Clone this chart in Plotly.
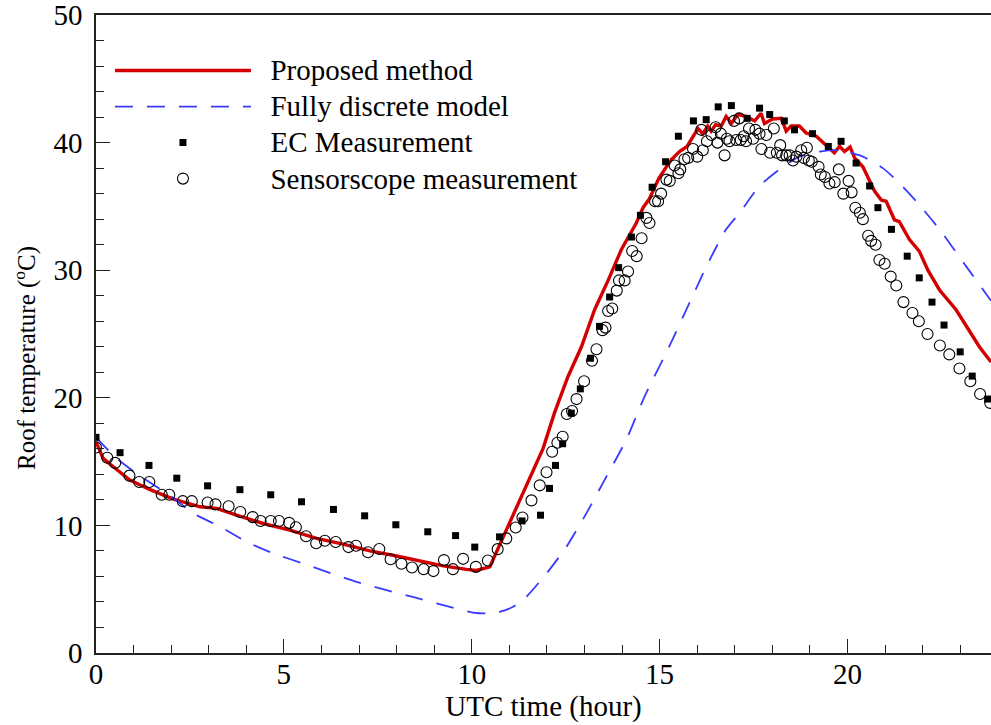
import plotly.graph_objects as go

# Hourly roof temperature, UTC hours vs degrees C
prop_t = [0, 0.19, 0.46, 0.9, 1.44, 2.06, 2.77, 3.21, 3.74, 4.45, 5.16, 5.87, 6.58, 7.29,
          8.0, 8.62, 9.24, 9.86, 10.12, 10.48, 10.92, 11.45, 11.9, 12.2, 12.56, 12.92,
          13.27, 13.63, 13.98, 14.38, 14.56, 14.73, 14.98, 15.18, 15.31, 15.53, 15.73,
          16.02, 16.15, 16.28, 16.37, 16.49, 16.64, 16.77, 16.91, 17.08, 17.3, 17.53,
          17.7, 17.79, 18.01, 18.24, 18.37, 18.5, 18.72, 18.9, 19.17, 19.43, 19.65,
          19.79, 19.92, 20.07, 20.19, 20.41, 20.72, 20.9, 21.03, 21.25, 21.38, 21.65,
          21.91, 22.14, 22.45, 22.89, 23.51, 23.82]
prop_v = [16.55, 15.25, 14.6, 13.55, 12.8, 12.06, 11.46, 11.33, 10.8, 10.15, 9.63, 8.98,
          8.53, 8.0, 7.6, 7.2, 6.83, 6.55, 6.47, 6.75, 9.63, 13.03, 16.04, 18.8, 21.65,
          24.0, 26.9, 29.2, 31.6, 33.7, 34.9, 35.6, 37.2, 38.1, 38.65, 39.3, 39.7, 41.1,
          40.7, 41.3, 40.9, 41.4, 41.3, 42.05, 41.5, 42.2, 42.05, 41.7, 42.3, 41.5, 41.85,
          41.9, 40.9, 41.3, 41.3, 40.75, 40.5, 39.8, 39.2, 39.7, 39.3, 39.65, 38.8, 38.1,
          36.2, 35.5, 35.4, 33.95, 33.8, 32.4, 31.5, 30.0, 28.45, 26.9, 24.0, 22.8]

disc_t = [0, 0.55, 1.26, 2.01, 2.59, 3.3, 4.01, 4.72, 5.51, 6.22, 6.93, 7.73, 8.48, 9.24,
          10.03, 10.39, 10.74, 11.1, 11.45, 11.99, 12.52, 13.05, 13.58, 14.11, 14.6,
          15.27, 15.71, 16.28, 16.77, 17.13, 17.66, 18.19, 18.72, 19.26, 19.79, 20.41,
          20.94, 21.34, 21.83, 22.45, 23.16, 23.82]
disc_v = [16.9, 15.25, 13.7, 12.25, 10.94, 9.9, 8.71, 7.8, 7.02, 6.28, 5.58, 4.93, 4.35,
          3.75, 3.17, 3.1, 3.22, 3.62, 4.4, 6.23, 8.32, 10.94, 13.8, 16.7, 20.1, 24.1,
          26.9, 30.5, 33.2, 34.5, 36.6, 37.9, 38.9, 39.3, 39.4, 38.9, 38.0, 36.95, 35.4,
          33.2, 30.3, 27.6]

ec_t = [0.0, 0.64, 1.41, 2.15, 2.97, 3.83, 4.65, 5.47, 6.32, 7.15, 7.98, 8.83, 9.57,
        10.08, 10.74, 11.34, 11.83, 12.07, 12.23, 12.42, 12.65, 12.89, 13.16, 13.4,
        13.67, 13.91, 14.25, 14.49, 14.8, 15.16, 15.5, 15.9, 16.24, 16.56, 16.91, 17.33,
        17.66, 17.93, 18.32, 18.59, 19.07, 19.49, 19.83, 20.23, 20.59, 20.81, 21.17,
        21.59, 21.91, 22.25, 22.57, 23.0, 23.32, 23.73]
ec_v = [16.9, 15.7, 14.7, 13.7, 13.1, 12.8, 12.4, 11.85, 11.25, 10.75, 10.05, 9.5, 9.2,
        8.3, 9.1, 10.35, 10.8, 12.9, 14.7, 16.4, 18.8, 20.7, 23.1, 25.6, 27.9, 30.2, 32.6,
        34.3, 36.5, 38.5, 40.5, 41.7, 41.8, 42.8, 42.9, 41.9, 42.7, 42.2, 41.7, 41.0,
        40.7, 39.7, 40.1, 38.4, 36.6, 34.9, 33.2, 31.1, 29.4, 27.5, 25.7, 23.6, 21.7, 19.9]

ss_t = [0.0, 0.30, 0.51, 0.89, 1.15, 1.42, 1.75, 1.95, 2.31, 2.55, 2.97, 3.18, 3.53, 3.84,
        4.17, 4.38, 4.65, 4.87, 5.14, 5.32, 5.59, 5.86, 6.09, 6.38, 6.72, 6.92, 7.24,
        7.54, 7.84, 8.13, 8.41, 8.72, 8.98, 9.26, 9.5, 9.77, 10.11, 10.43, 10.69, 10.92,
        11.17, 11.35, 11.59, 11.81, 11.99, 12.14, 12.28, 12.42, 12.53, 12.67, 12.79,
        12.99, 13.2, 13.32, 13.48, 13.56, 13.63, 13.74, 13.86, 13.92, 14.07, 14.16,
        14.27, 14.39, 14.52, 14.65, 14.73, 14.88, 14.96, 15.04, 15.18, 15.27, 15.4,
        15.5, 15.55, 15.66, 15.76, 15.89, 16.0, 16.11, 16.15, 16.26, 16.38, 16.49,
        16.54, 16.63, 16.73, 16.79, 16.86, 16.98, 17.04, 17.12, 17.16, 17.24, 17.3,
        17.38, 17.49, 17.55, 17.66, 17.71, 17.84, 17.94, 18.04, 18.12, 18.21, 18.26,
        18.37, 18.46, 18.55, 18.64, 18.77, 18.84, 18.92, 18.97, 19.05, 19.23, 19.29,
        19.4, 19.52, 19.66, 19.77, 19.89, 20.03, 20.11, 20.21, 20.33, 20.41, 20.55,
        20.63, 20.75, 20.85, 20.99, 21.15, 21.3, 21.49, 21.73, 21.9, 22.13, 22.46,
        22.71, 22.98, 23.27, 23.53, 23.8]
ss_v = [16.1, 15.3, 14.9, 13.9, 13.4, 13.4, 12.4, 12.4, 11.9, 11.9, 11.8, 11.65, 11.5,
        11.05, 10.65, 10.35, 10.35, 10.35, 10.2, 9.85, 9.15, 8.6, 8.8, 8.7, 8.3, 8.4, 7.9,
        8.15, 7.35, 7.0, 6.7, 6.57, 6.42, 7.28, 6.57, 7.38, 6.75, 7.25, 8.14, 8.98, 9.84,
        10.62, 11.96, 13.14, 14.16, 15.77, 16.48, 16.95, 18.73, 18.96, 19.9, 21.3, 22.9,
        23.8, 25.3, 25.5, 26.8, 27.0, 28.4, 29.2, 29.2, 29.9, 31.5, 31.1, 32.5, 34.1,
        33.7, 35.4, 35.4, 36.0, 37.1, 37.0, 38.2, 37.6, 37.9, 38.7, 38.8, 39.5, 38.9,
        41.0, 39.4, 40.1, 40.6, 41.2, 40.0, 40.7, 39.0, 40.3, 40.1, 41.7, 40.2, 41.9,
        40.2, 40.5, 40.1, 41.1, 40.3, 41.0, 40.7, 39.5, 40.6, 39.2, 41.1, 39.2, 39.8,
        39.0, 39.0, 39.0, 38.6, 38.9, 39.4, 38.8, 39.6, 38.6, 38.5, 38.1, 37.5, 37.3,
        36.8, 36.9, 37.9, 36.0, 37.0, 36.1, 34.9, 34.5, 34.0, 32.7, 32.3, 32.0, 30.8,
        30.5, 29.5, 28.8, 27.5, 26.65, 26.0, 25.0, 24.1, 23.4, 22.3, 21.3, 20.3, 19.6]

series_names = ["Proposed method", "Fully discrete model", "EC Measurement",
                "Sensorscope measurement"]

FONT = "Liberation Serif, Times New Roman, serif"
TEXT_SIZE = 29


def legend_label(name):
    # larger glyphs than the legend row pitch, with a gap after the symbol
    return f'<span style="font-size:{TEXT_SIZE}px">&nbsp;&nbsp;{name}</span>'


fig = go.Figure()
fig.add_trace(go.Scatter(x=prop_t, y=prop_v, mode="lines", name=legend_label(series_names[0]),
                         line=dict(color="#d40000", width=3.4)))
fig.add_trace(go.Scatter(x=disc_t, y=disc_v, mode="lines", name=legend_label(series_names[1]),
                         line=dict(color="#3a3aff", width=1.8, dash="18px,14px",
                                   shape="spline", smoothing=0.6)))
fig.add_trace(go.Scatter(x=ec_t, y=ec_v, mode="markers", name=legend_label(series_names[2]),
                         marker=dict(symbol="square", size=7, color="black",
                                     line=dict(width=0))))
fig.add_trace(go.Scatter(x=ss_t, y=ss_v, mode="markers", name=legend_label(series_names[3]),
                         marker=dict(symbol="circle-open", size=11, color="black",
                                     line=dict(width=1.1, color="black"))))

axis_common = dict(
    showgrid=False, zeroline=False, showline=True, linecolor="#222", linewidth=1.6,
    ticks="inside", ticklen=14, tickwidth=1, tickcolor="#222",
    ticklabeloverflow="allow",
    tickfont=dict(family=FONT, size=TEXT_SIZE, color="black"),
)

fig.update_xaxes(range=[0, 23.82], dtick=5, tick0=0, mirror=True, ticklabelstandoff=-6,
                 minor=dict(dtick=1, ticks="inside", ticklen=8, tickcolor="#222"),
                 title=dict(text="UTC time (hour)",
                            font=dict(family=FONT, size=TEXT_SIZE, color="black"),
                            standoff=4),
                 **axis_common)
fig.update_yaxes(range=[0, 50], dtick=10, tick0=0, ticklabelstandoff=6,
                 minor=dict(dtick=2, ticks="inside", ticklen=8, tickcolor="#222"),
                 **axis_common)

fig.add_annotation(text="Roof temperature (<sup>o</sup>C)", textangle=-90,
                   xref="paper", yref="paper", x=-0.079, y=0.463,
                   xanchor="center", yanchor="middle", showarrow=False,
                   font=dict(family=FONT, size=25, color="black"))

fig.update_layout(
    width=991, height=725,
    margin=dict(l=96, r=0, t=15, b=72),
    plot_bgcolor="white", paper_bgcolor="white",
    font=dict(family=FONT, size=TEXT_SIZE, color="black"),
    legend=dict(x=0.0156, y=0.949, xanchor="left", yanchor="top",
                bgcolor="rgba(0,0,0,0)", borderwidth=0, itemwidth=136,
                font=dict(family=FONT, size=25.4, color="black")),
)

fig.write_html("out.html")
